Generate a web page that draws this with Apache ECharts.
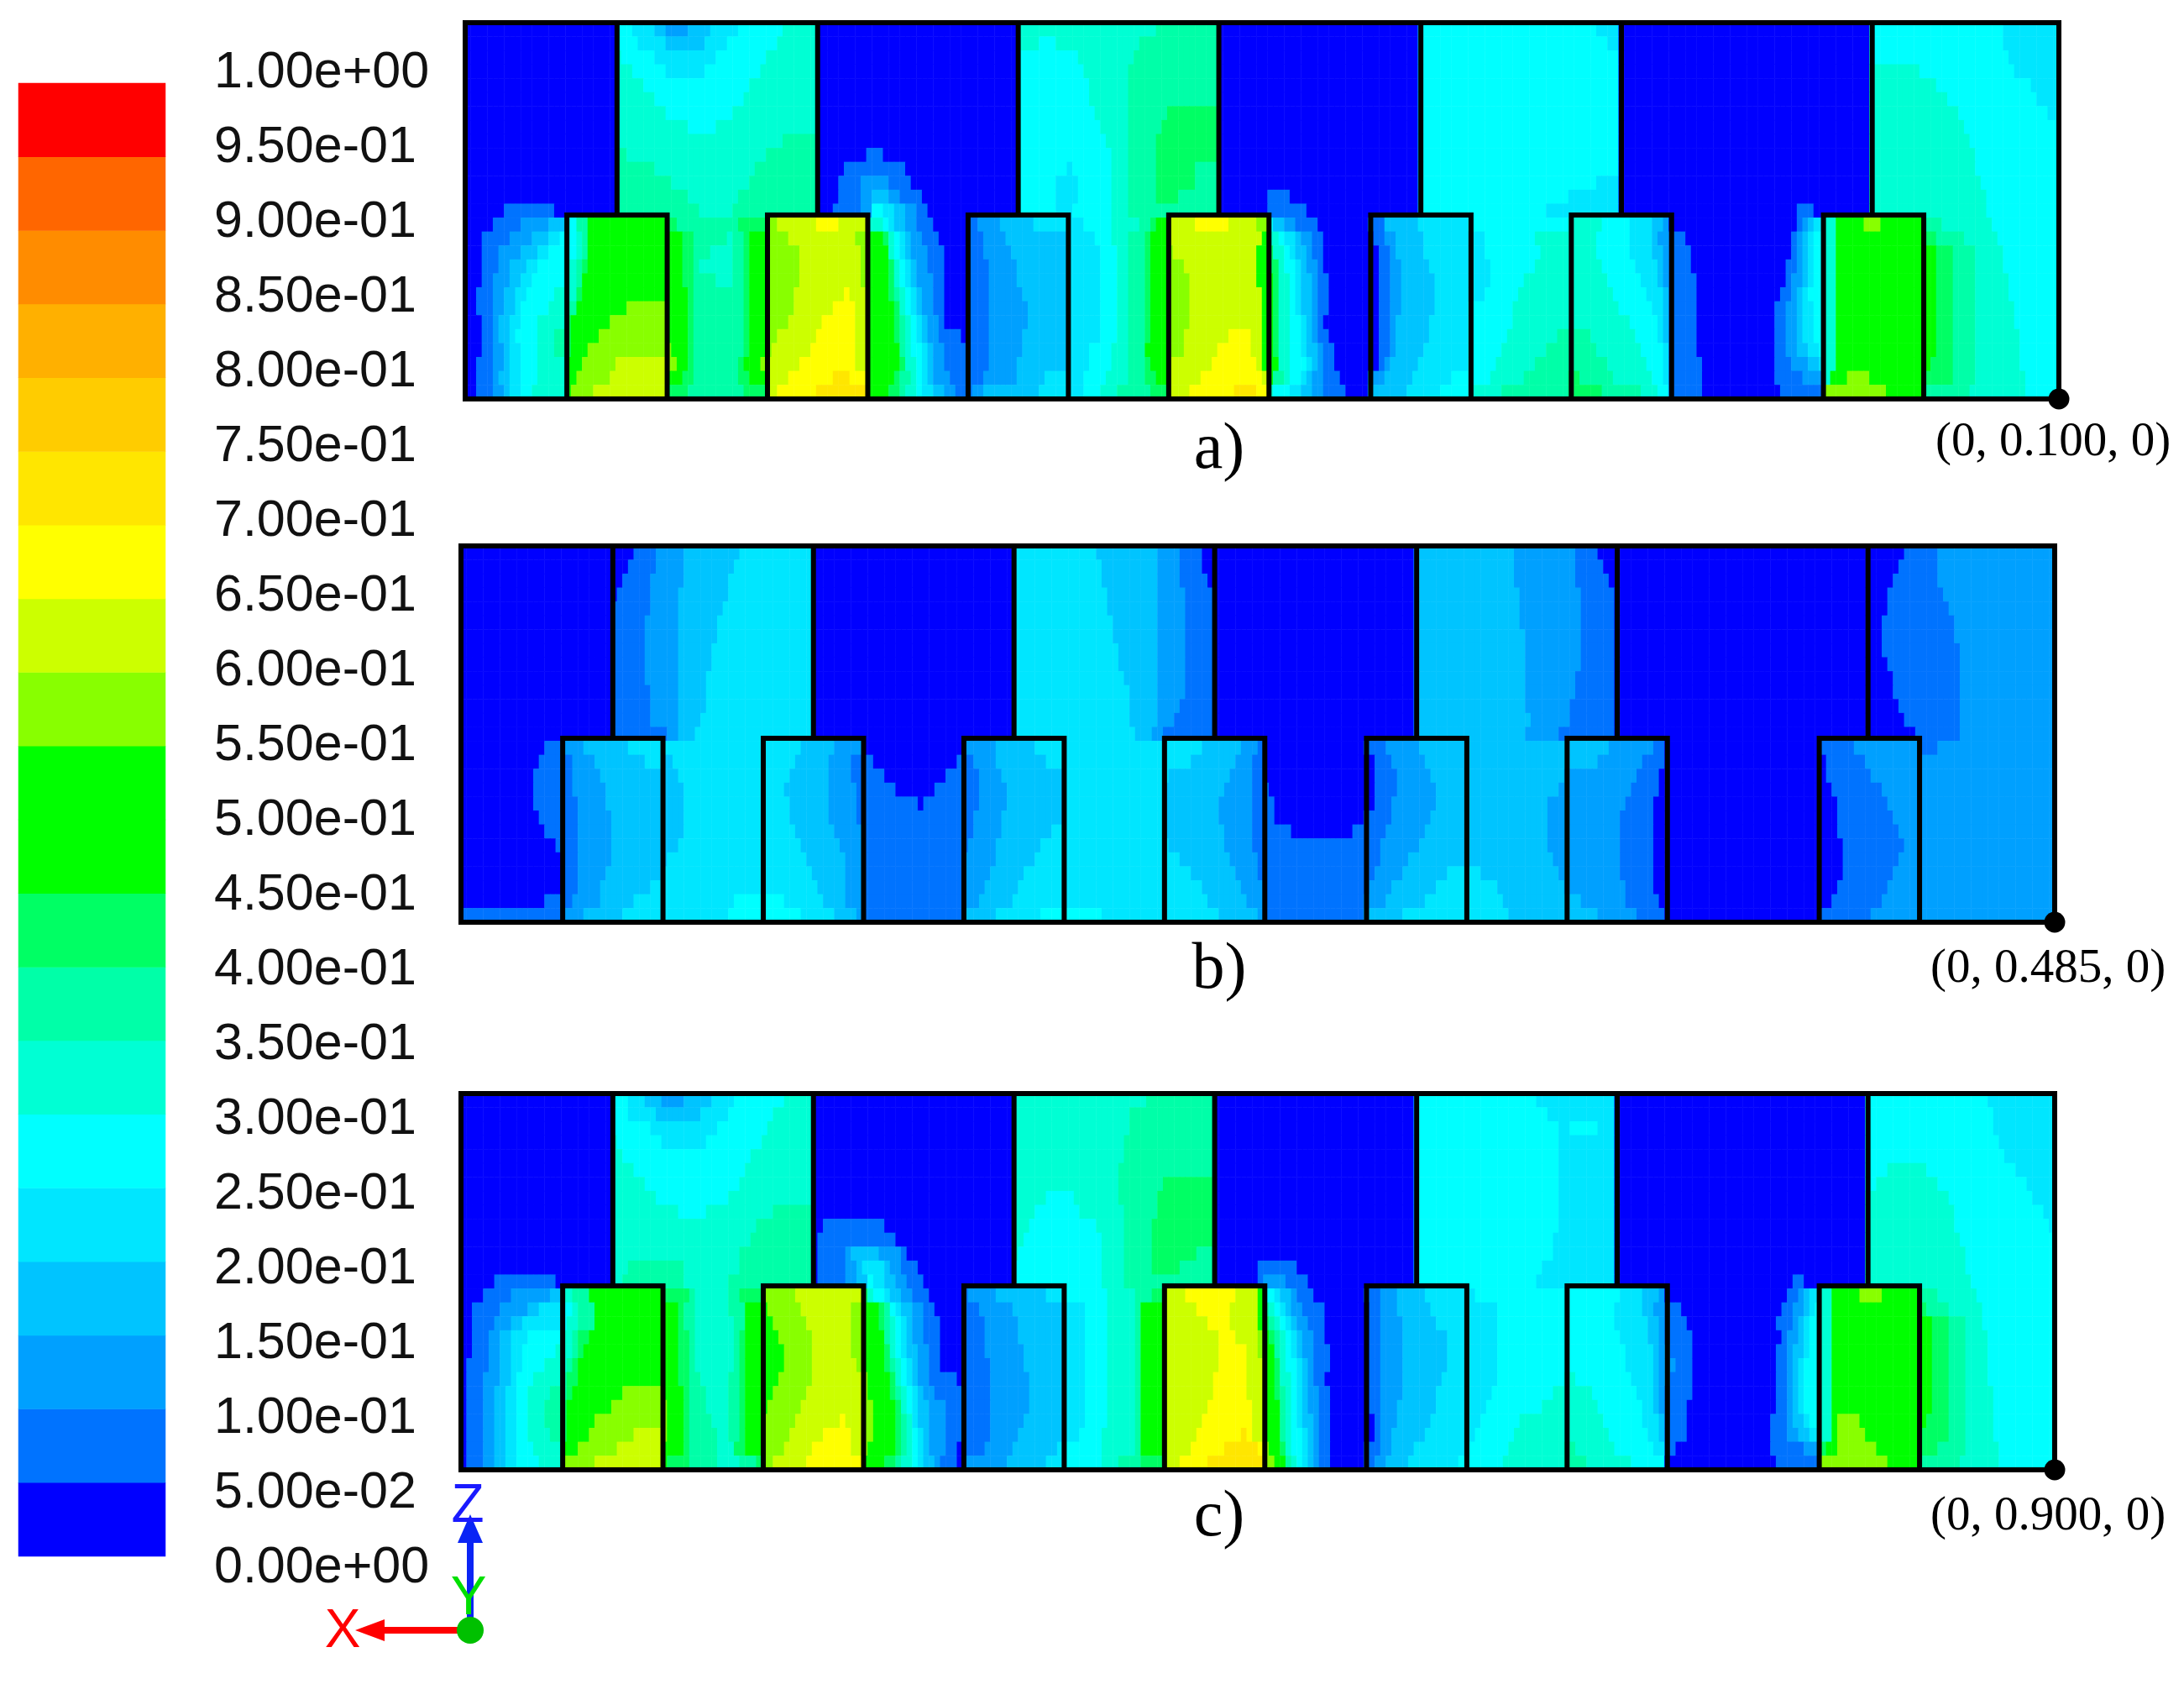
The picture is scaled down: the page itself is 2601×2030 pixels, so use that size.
<!DOCTYPE html>
<html><head><meta charset="utf-8">
<script src="https://cdn.jsdelivr.net/npm/echarts@6/dist/echarts.min.js"></script>
<style>html,body{margin:0;padding:0;background:#fff}#c{width:2601px;height:2030px}</style>
</head><body><div id="c"></div>
<script>
const levelColors=['#0000ff','#0073ff','#00a0ff','#00c4ff','#00e6ff','#00ffff','#00ffd4','#00ffa8','#00ff64','#00ff00','#00ff00','#88ff00','#ccff00','#ffff00','#ffe600','#ffcc00','#ffb000','#ff8c00','#ff6600','#ff0000'];
const tickLabels=['0.00e+00','5.00e-02','1.00e-01','1.50e-01','2.00e-01','2.50e-01','3.00e-01','3.50e-01','4.00e-01','4.50e-01','5.00e-01','5.50e-01','6.00e-01','6.50e-01','7.00e-01','7.50e-01','8.00e-01','8.50e-01','9.00e-01','9.50e-01','1.00e+00'];
const stemEdges=[109,253,397,541,686,830,1010];
const boxEdges=[[73,145],[217,289],[361,433],[505,577],[650,722],[794,866],[975,1047]];
const boxTop=138, spanX=1144, spanY=270;
const panelCaptions=['a)','b)','c)'];
const pointCaptions=['(0, 0.100, 0)','(0, 0.485, 0)','(0, 0.900, 0)'];
// each row: band level, end of band along the panel, band level, end ...
const rowsA=[
[0,109,5,119,4,136,3,145,2,162,3,178,4,197,5,230,6,253,0,397,6,497,7,541,0,686,5,812,4,830,0,1010,5,1103,4,1144],
[0,109,5,124,4,143,3,173,4,189,5,225,6,253,0,397,6,412,5,425,6,483,7,541,0,686,5,822,4,830,0,1010,5,1104,4,1144],
[0,109,6,112,5,135,4,180,5,218,6,253,0,397,5,439,6,481,7,541,0,686,5,830,0,1010,5,1107,4,1144],
[0,109,6,119,5,146,4,173,5,212,6,253,0,397,5,443,6,478,7,541,0,686,5,830,0,1010,6,1046,5,1112,4,1144],
[0,109,6,128,5,206,6,253,0,397,5,447,6,477,7,541,0,686,5,830,0,1010,6,1055,5,1125,4,1144],
[0,109,6,137,5,200,6,253,0,397,5,450,6,476,7,541,0,686,5,830,0,1010,6,1064,5,1130,4,1144],
[0,109,6,145,5,193,6,253,0,397,5,454,6,476,7,503,8,541,0,686,5,830,0,1010,6,1071,5,1137,4,1144],
[0,109,6,160,5,181,6,253,0,397,5,458,6,476,7,501,8,541,0,686,5,830,0,1010,6,1075,5,1144],
[0,109,6,228,7,253,0,397,5,460,6,476,7,498,8,541,0,686,5,830,0,1010,6,1079,5,1144],
[0,109,7,117,6,217,7,253,0,290,1,302,0,397,5,463,6,476,7,496,8,541,0,686,5,830,0,1010,6,1083,5,1144],
[0,109,7,137,6,209,7,253,0,273,1,315,0,397,5,431,4,438,5,465,6,476,7,495,8,524,7,541,0,686,5,830,0,1010,6,1085,5,1144],
[0,109,7,150,6,203,7,253,0,270,1,286,2,304,1,320,0,397,5,425,4,440,5,466,6,476,7,495,8,523,7,541,0,686,5,812,4,830,0,1010,6,1088,5,1144],
[0,109,7,160,6,197,7,253,0,267,1,283,2,293,3,305,2,313,1,329,0,397,5,424,4,440,5,466,6,476,7,497,8,511,7,541,0,577,1,594,0,686,5,793,4,830,0,1010,6,1091,5,1144],
[0,28,1,66,0,109,7,168,6,194,7,253,0,266,1,283,2,292,5,300,4,308,3,318,2,324,1,333,0,397,5,424,4,438,5,466,6,476,7,541,0,577,1,605,0,686,5,778,4,830,0,958,1,970,0,1010,6,1094,5,1144],
[0,22,1,39,2,61,3,73,5,80,7,90,9,145,8,152,7,197,8,217,11,226,12,254,13,268,12,289,6,300,5,304,4,310,3,316,2,325,1,335,0,362,1,368,2,383,3,410,4,433,4,443,5,465,6,485,7,492,8,497,9,505,12,525,13,550,12,570,11,577,5,582,3,588,2,598,1,612,0,650,1,662,3,686,4,722,5,794,6,815,5,838,4,853,3,860,2,866,0,955,1,960,2,965,3,970,4,975,6,984,9,1005,11,1016,9,1047,7,1060,6,1097,5,1144],
[0,12,1,32,2,47,3,61,4,68,5,73,5,79,6,86,7,90,9,145,9,155,8,163,7,188,6,194,7,200,8,204,9,217,11,232,12,281,11,289,9,301,8,303,7,305,6,308,5,312,4,315,3,320,2,327,1,342,0,362,1,371,2,388,3,433,4,453,5,466,6,477,7,487,8,491,9,505,12,572,9,577,6,584,5,590,4,595,3,600,2,607,1,615,0,653,1,662,2,668,3,688,4,722,4,733,5,770,6,794,6,812,5,836,4,852,3,858,2,866,1,875,0,953,1,958,2,962,3,966,4,970,5,975,6,983,9,1047,8,1057,7,1078,6,1100,5,1144],
[0,13,1,25,2,39,3,52,4,61,5,73,5,79,6,84,7,90,9,145,9,156,8,163,7,175,6,194,7,200,8,204,9,217,11,239,12,284,11,289,9,303,8,306,6,310,5,313,4,318,3,322,2,331,1,344,0,362,1,373,2,392,3,433,4,455,5,468,6,477,7,487,8,491,9,505,11,510,12,570,9,577,8,582,6,587,5,594,4,598,3,603,2,609,1,617,0,655,1,663,2,670,3,690,4,722,4,734,5,771,6,794,6,812,5,838,4,854,3,859,2,866,1,880,0,951,1,957,2,961,3,965,4,969,5,975,6,983,9,1047,9,1055,8,1070,7,1083,6,1103,5,1144],
[0,13,1,23,2,33,3,44,4,52,5,73,6,81,7,84,8,88,9,145,9,157,8,163,7,170,6,194,7,200,8,204,9,217,11,239,12,284,11,289,9,303,8,307,7,309,6,313,5,316,4,320,3,324,2,333,1,344,0,362,1,375,2,395,3,433,4,455,5,468,6,477,7,487,8,491,9,505,11,518,12,570,9,577,8,583,6,590,5,597,4,600,3,605,2,611,1,618,0,655,1,664,2,671,3,693,4,722,4,735,5,767,6,794,6,815,5,842,4,856,3,861,2,866,1,882,0,949,1,955,2,960,3,964,4,968,5,975,6,983,9,1047,9,1055,8,1070,7,1083,6,1106,5,1144],
[0,11,1,22,2,31,3,39,4,47,5,73,6,80,7,83,8,86,9,145,9,158,8,163,7,182,6,194,7,200,8,204,9,217,11,239,12,284,11,289,9,304,8,308,7,310,6,314,5,318,4,322,3,326,2,335,1,344,0,362,1,376,2,398,3,433,4,455,5,468,6,477,7,487,8,491,9,505,11,521,12,570,9,577,9,581,8,584,6,591,5,598,4,602,3,607,2,613,1,622,0,655,1,665,2,671,3,696,4,722,4,735,5,761,6,794,6,820,5,845,4,857,3,862,2,866,1,884,0,947,1,954,2,959,3,963,4,967,5,975,6,983,9,1047,9,1056,8,1069,7,1083,6,1108,5,1144],
[0,9,1,21,2,29,3,36,4,44,5,66,6,73,6,79,7,82,8,84,9,145,9,159,8,164,7,201,8,205,9,217,11,238,12,272,13,278,12,289,9,305,8,309,7,312,6,316,5,319,4,324,3,328,2,336,1,344,0,362,1,377,2,400,3,433,4,455,5,468,6,477,7,487,8,491,9,505,11,522,12,571,9,577,9,581,8,585,6,591,5,598,4,602,3,607,2,613,1,619,0,655,1,665,2,671,3,696,4,722,4,734,5,758,6,794,6,824,5,850,4,859,3,863,2,866,1,885,0,944,1,952,2,957,3,962,4,966,5,975,6,983,9,1047,9,1055,8,1070,7,1083,6,1110,5,1144],
[0,8,1,20,2,28,3,35,4,42,5,59,6,73,7,79,8,80,9,115,11,145,9,160,8,165,7,200,8,203,9,217,11,236,12,266,13,279,12,289,9,307,8,311,7,314,6,318,5,322,4,326,3,330,2,337,1,344,0,362,1,378,2,403,3,433,4,455,5,468,6,477,7,487,8,491,9,505,11,522,12,571,9,577,9,581,8,585,6,591,5,598,4,602,3,607,2,613,1,619,0,655,1,665,2,671,3,696,4,722,5,754,6,794,6,829,5,853,4,860,3,863,2,866,1,885,0,941,1,949,2,956,3,962,4,967,5,975,6,983,9,1047,9,1055,8,1070,7,1083,6,1112,5,1144],
[0,12,1,21,2,26,3,33,4,39,5,52,6,73,8,78,9,106,11,145,9,160,8,165,7,200,8,203,9,217,11,233,12,258,13,280,12,289,9,309,8,312,7,315,6,320,5,324,4,328,3,332,2,339,1,346,0,362,1,378,2,403,3,433,4,455,5,468,6,477,7,487,8,491,9,505,11,521,12,572,9,577,9,582,8,585,6,592,5,600,4,604,3,608,2,613,1,618,0,655,1,665,2,670,3,694,4,722,5,752,6,794,6,835,5,856,4,862,3,864,2,866,1,884,0,940,1,949,2,956,3,962,4,967,5,975,6,983,9,1047,9,1055,8,1070,7,1083,6,1114,5,1144],
[0,14,1,20,2,26,3,32,4,38,5,52,6,65,7,73,8,77,9,98,11,145,9,160,8,165,7,200,8,203,9,217,11,226,12,253,13,281,12,289,9,310,8,313,7,317,6,321,5,326,4,330,3,334,2,341,1,358,0,362,1,378,2,402,3,433,4,455,5,468,6,477,7,487,8,491,9,505,11,518,12,548,13,563,12,573,9,577,9,582,8,586,6,593,5,601,4,605,3,609,2,614,1,622,0,655,1,664,2,668,3,692,4,722,5,750,6,785,7,794,7,808,6,841,5,857,4,862,3,866,1,884,0,940,1,949,2,957,3,962,4,968,5,975,6,983,9,1047,9,1055,8,1070,7,1083,6,1116,5,1144],
[0,11,1,20,2,28,3,33,4,40,5,53,6,66,7,73,8,76,9,88,11,145,11,150,9,161,8,166,7,199,8,203,9,217,11,221,12,247,13,281,12,289,9,311,8,314,7,318,6,322,5,327,4,331,3,335,2,343,1,362,1,378,2,400,3,433,4,449,5,466,6,477,7,487,8,490,9,505,11,515,12,541,13,565,12,572,9,577,9,582,8,586,6,594,5,602,4,606,3,611,2,615,1,623,0,655,1,663,2,667,3,689,4,722,5,746,6,778,7,794,7,814,6,846,5,859,4,864,3,866,1,886,0,940,1,950,2,958,3,963,4,972,5,975,6,983,9,1047,9,1055,8,1070,7,1083,6,1117,5,1144],
[0,9,1,19,2,27,3,33,4,41,5,54,6,73,9,86,11,110,12,145,11,151,9,162,8,164,7,198,8,202,9,212,11,217,12,241,13,282,12,289,9,311,8,315,7,318,6,323,5,328,4,332,3,337,2,346,1,362,1,376,2,398,3,433,4,448,5,463,6,477,7,487,8,491,9,505,12,535,13,568,12,573,9,577,9,583,8,586,6,594,5,603,4,607,3,611,2,616,1,626,0,655,1,661,2,665,3,683,4,722,5,742,6,770,7,794,7,820,6,850,5,860,4,866,1,887,0,939,1,953,2,964,3,973,4,975,6,983,9,1047,9,1052,8,1070,7,1083,6,1118,5,1144],
[0,9,1,19,2,26,3,33,4,41,5,54,6,73,9,82,11,103,12,145,9,158,8,164,7,197,8,204,9,217,12,233,13,265,14,275,13,289,9,310,8,314,7,319,6,324,5,329,4,333,3,338,2,349,1,362,1,372,2,395,3,415,4,433,4,446,5,460,6,476,7,487,8,496,9,505,12,530,13,572,12,577,9,580,7,587,6,592,5,602,4,606,3,610,2,617,1,628,0,650,2,660,3,680,4,710,5,722,5,735,6,760,7,794,8,801,7,826,6,852,5,861,4,866,1,888,0,940,1,960,2,975,6,981,9,991,11,1010,9,1047,8,1068,7,1083,6,1119,5,1144],
[0,10,1,20,2,27,3,34,4,42,5,49,6,73,9,75,11,92,12,145,8,162,7,199,8,217,12,224,13,253,14,289,9,306,8,312,7,318,6,323,5,329,4,336,3,343,2,351,1,362,1,364,2,372,3,413,4,433,4,446,5,455,6,468,7,491,8,505,12,522,13,552,14,568,13,577,6,580,5,593,4,600,3,609,2,618,1,632,0,650,3,676,4,700,5,722,5,726,6,745,7,794,8,818,7,845,6,856,5,863,4,866,1,890,0,944,1,975,11,1022,9,1047,7,1080,6,1120,5,1144]
];
const rowsB=[
[0,124,1,140,2,162,3,200,4,253,0,397,4,457,3,499,2,515,1,531,0,686,3,757,2,799,1,817,0,1035,1,1060,2,1144],
[0,120,1,139,2,161,3,197,4,253,0,397,4,459,3,500,2,517,1,534,0,686,3,757,2,800,1,820,0,1031,1,1060,2,1144],
[0,117,1,138,2,160,3,194,4,253,0,397,4,461,3,500,2,518,1,537,0,686,3,758,2,802,1,825,0,1028,1,1062,2,1144],
[0,113,1,137,2,158,3,191,4,253,0,397,4,464,3,501,2,519,1,541,0,686,3,759,2,803,1,830,0,1023,1,1066,2,1144],
[0,110,1,136,2,157,3,188,4,253,0,397,4,466,3,501,2,520,1,541,0,686,3,761,2,804,1,830,0,1023,1,1069,2,1144],
[0,109,1,134,2,156,3,185,4,253,0,397,4,468,3,502,2,521,1,541,0,686,3,762,2,805,1,830,0,1022,1,1071,2,1144],
[0,109,1,133,2,155,3,183,4,253,0,397,4,470,3,502,2,521,1,541,0,686,3,763,2,805,1,830,0,1022,1,1073,2,1144],
[0,109,1,133,2,155,3,181,4,253,0,397,4,471,3,502,2,521,1,541,0,686,3,763,2,805,1,830,0,1022,1,1075,2,1144],
[0,109,1,133,2,155,3,180,4,253,0,397,4,473,3,502,2,521,1,541,0,686,3,764,2,804,1,830,0,1024,1,1077,2,1144],
[0,109,1,134,2,155,3,178,4,253,0,397,4,476,3,502,2,520,1,541,0,686,3,764,2,802,1,830,0,1027,1,1078,2,1144],
[0,109,1,135,2,155,3,177,4,253,0,397,4,479,3,501,2,519,1,541,0,686,3,765,2,800,1,830,0,1029,1,1078,2,1144],
[0,109,1,136,2,155,3,175,4,253,0,397,4,481,3,500,2,518,1,541,0,686,3,766,2,798,1,830,0,1032,1,1078,2,1144],
[0,109,1,138,2,155,3,171,4,253,0,397,4,482,3,499,2,512,1,541,0,686,3,767,2,795,1,830,0,1036,1,1078,2,1144],
[0,109,1,150,2,158,3,168,4,253,0,397,4,485,3,495,2,505,1,541,0,686,3,765,2,787,1,830,0,1046,1,1078,2,1144],
[0,59,1,73,2,90,3,120,4,145,4,217,4,245,3,270,2,288,1,289,0,362,2,383,3,412,4,433,4,505,4,532,3,562,2,572,1,577,0,650,1,664,2,687,3,722,3,794,3,826,2,858,1,866,0,975,1,1000,2,1047,1,1060,2,1144],
[0,56,1,73,1,80,2,97,3,133,4,145,3,152,4,217,4,239,3,265,2,281,1,289,1,296,0,356,1,362,1,370,2,386,3,420,4,433,4,505,4,523,3,556,2,570,1,577,0,650,0,655,1,669,2,693,3,722,3,794,3,815,2,849,1,866,0,981,1,1010,2,1144],
[0,54,1,73,1,81,2,101,3,145,3,157,4,217,4,235,3,264,2,282,1,289,1,303,0,350,1,362,1,371,2,390,3,431,4,433,4,505,4,510,3,552,2,569,1,577,0,650,0,656,1,671,2,697,3,722,3,794,2,844,1,862,0,982,1,1014,2,1144],
[0,53,1,73,1,82,2,103,3,145,3,159,4,217,4,234,3,264,2,283,1,289,1,312,0,340,1,362,1,371,2,391,3,433,4,505,3,547,2,568,1,577,1,581,0,650,0,656,1,671,2,699,3,722,3,790,2,840,1,860,0,985,1,1020,2,1144],
[0,54,1,73,1,83,2,105,3,145,3,162,4,217,4,235,3,265,2,283,1,289,1,327,0,332,1,362,1,371,2,391,3,433,4,505,3,545,2,567,1,577,1,585,0,650,0,655,1,669,2,699,3,722,3,781,2,837,1,858,0,987,1,1025,2,1144],
[0,57,1,73,1,84,2,107,3,145,3,161,4,217,4,237,3,266,2,285,1,289,1,362,1,369,2,390,3,433,4,505,3,546,2,567,1,577,1,586,0,650,1,667,2,696,3,722,3,780,2,834,1,858,0,989,1,1029,2,1144],
[0,62,1,73,1,85,2,109,3,145,3,160,4,217,4,241,3,269,2,287,1,289,1,362,1,367,2,387,3,425,4,433,4,505,3,548,2,568,1,577,1,597,0,639,1,650,1,665,2,692,3,722,3,780,2,832,1,858,0,990,1,1033,2,1144],
[0,68,1,73,1,85,2,109,3,145,3,157,4,217,4,245,3,272,2,289,1,362,1,364,2,385,3,415,4,433,4,505,4,507,3,550,2,570,1,650,1,661,2,687,3,722,3,781,2,831,1,857,0,991,1,1035,2,1144],
[0,73,1,84,2,107,3,145,3,150,4,217,4,249,3,275,2,289,1,362,2,383,3,411,4,433,4,505,4,518,3,553,2,571,1,650,1,659,2,681,3,722,3,783,2,832,1,857,0,991,1,1033,2,1144],
[0,73,1,83,2,104,3,145,4,217,4,253,3,276,2,289,1,362,2,381,3,406,4,433,4,505,4,526,3,556,2,573,1,650,1,656,2,675,3,710,4,722,4,733,3,788,2,833,1,857,0,991,1,1030,2,1144],
[0,73,1,83,2,101,3,137,4,145,4,217,4,257,3,277,2,289,1,362,2,378,3,401,4,433,4,505,4,531,3,559,2,575,1,650,1,654,2,669,3,700,4,722,4,745,3,794,2,836,1,857,0,990,1,1025,2,1144],
[0,62,1,73,1,82,2,99,3,126,4,145,4,195,5,217,5,232,4,261,3,278,2,289,1,362,2,373,3,396,4,433,4,505,4,537,3,564,2,577,1,650,2,664,3,691,4,722,4,749,3,794,3,805,2,838,1,860,0,986,1,1019,2,1144],
[1,73,2,90,3,115,4,145,4,191,5,217,5,245,4,269,3,283,2,289,1,362,3,386,4,418,5,433,5,461,4,505,4,546,3,572,2,577,1,650,3,678,4,722,4,754,3,794,3,817,2,845,1,866,0,975,0,978,1,1011,2,1144]
];
const rowsC=[
[0,109,5,119,4,132,3,143,2,161,3,180,4,198,5,231,6,253,0,397,6,493,7,541,0,686,5,774,4,830,0,1010,5,1097,4,1144],
[0,109,5,120,4,141,3,172,4,191,5,226,6,253,0,397,6,481,7,541,0,686,5,780,4,830,0,1010,5,1099,4,1144],
[0,109,5,135,4,185,5,221,6,253,0,397,6,479,7,541,0,686,5,790,4,796,5,815,4,830,0,1010,5,1100,4,1144],
[0,109,6,111,5,144,4,177,5,217,6,253,0,397,6,477,7,541,0,686,5,789,4,830,0,1010,5,1103,4,1144],
[0,109,6,118,5,209,6,253,0,397,6,475,7,541,0,686,5,788,4,830,0,1010,5,1110,4,1144],
[0,109,6,125,5,205,6,253,0,397,6,474,7,541,0,686,5,787,4,830,0,1010,5,1026,6,1054,5,1117,4,1144],
[0,109,6,132,5,200,6,253,0,397,6,474,7,503,8,541,0,686,5,788,4,830,0,1010,5,1015,6,1062,5,1125,4,1144],
[0,109,6,142,5,194,6,253,0,397,6,420,5,441,6,474,7,502,8,541,0,686,5,790,4,830,0,1010,6,1068,5,1130,4,1144],
[0,109,6,157,5,176,6,226,7,253,0,397,6,412,5,446,6,475,7,500,8,541,0,686,5,789,4,830,0,1010,6,1071,5,1136,4,1144],
[0,109,6,213,7,253,0,260,1,306,0,397,6,407,5,455,6,475,7,498,8,541,0,686,5,787,4,830,0,1010,6,1074,5,1141,4,1144],
[0,109,6,207,7,253,0,257,1,314,0,397,6,403,5,459,6,475,7,496,8,541,0,686,5,785,4,830,0,1010,6,1077,5,1144],
[0,109,6,202,7,253,0,255,1,275,2,280,3,302,2,315,1,322,0,397,6,400,5,460,6,475,7,495,8,530,7,541,0,686,5,783,4,830,0,1010,6,1080,5,1144],
[0,109,6,119,7,159,6,199,7,253,0,255,1,275,2,283,3,290,4,303,3,308,2,318,1,328,0,397,5,461,6,475,7,497,8,515,7,541,0,573,1,600,0,686,5,778,4,830,0,1010,6,1082,5,1144],
[0,24,1,68,0,109,6,117,7,162,6,194,7,253,0,255,1,278,2,286,3,291,5,298,4,304,3,312,2,322,1,332,0,397,5,462,6,476,7,541,0,573,1,578,2,594,1,608,0,686,5,772,4,830,0,958,1,965,0,1010,6,1085,5,1144],
[0,17,1,38,2,66,3,73,6,81,7,94,9,145,8,163,7,170,6,192,7,200,8,217,11,240,12,289,8,293,6,298,5,303,4,309,3,315,2,326,1,335,0,362,1,366,2,386,3,422,4,433,5,465,6,486,7,495,8,505,12,519,13,556,12,572,9,577,5,585,4,590,3,595,2,602,1,614,0,650,1,660,2,671,3,691,4,722,4,730,5,794,5,831,4,850,3,860,2,866,0,952,1,960,2,966,3,970,4,975,6,984,9,1003,11,1020,9,1047,7,1060,6,1090,5,1144],
[0,9,1,30,2,48,3,58,4,73,5,81,6,86,7,95,9,145,9,157,8,162,7,170,6,194,7,203,8,205,9,217,9,222,11,245,12,281,11,289,9,301,8,304,7,307,6,310,5,314,4,318,3,323,2,332,1,341,0,362,1,373,2,396,3,433,4,449,5,465,6,484,7,488,9,505,12,530,13,553,12,571,9,577,7,582,6,586,5,590,4,594,3,598,2,604,1,619,0,654,1,661,2,673,3,698,4,722,4,743,5,794,5,830,4,850,3,858,2,866,1,876,0,948,1,956,2,963,3,967,4,971,5,975,6,984,9,1047,8,1054,7,1070,6,1092,5,1144],
[0,8,1,24,2,35,3,45,4,73,5,78,6,83,7,95,9,145,9,157,8,162,7,170,6,197,7,203,8,206,9,217,9,226,11,249,12,281,11,289,9,302,8,305,7,308,6,312,5,316,4,320,3,325,2,334,1,343,0,362,1,375,2,400,3,433,4,450,5,464,6,484,7,488,9,505,12,537,13,551,12,571,9,577,8,581,7,585,6,588,5,592,4,597,3,601,2,609,1,619,0,654,1,661,2,675,3,702,4,722,4,744,5,794,5,829,4,852,3,860,2,866,1,881,0,946,1,955,2,961,3,966,4,970,5,975,6,984,9,1047,9,1057,8,1069,7,1081,6,1094,5,1144],
[0,8,1,20,2,29,3,38,4,50,5,73,6,80,7,85,8,92,9,145,9,157,8,163,7,170,6,197,7,201,8,206,9,217,9,229,11,251,12,281,11,289,9,303,8,306,7,309,6,313,5,317,4,321,3,326,2,334,1,343,0,362,1,376,2,402,3,433,4,450,5,464,6,484,7,488,9,505,12,545,13,556,12,572,11,577,9,579,8,584,7,587,6,591,5,595,4,600,3,604,2,612,1,619,0,654,1,661,2,677,3,707,4,722,4,744,5,794,5,833,4,854,3,861,2,866,1,885,0,947,1,953,2,959,3,964,4,969,5,975,6,984,9,1047,9,1056,8,1068,7,1081,6,1095,5,1144],
[0,7,1,20,2,28,3,37,4,46,5,70,6,73,6,79,7,83,8,90,9,145,9,157,8,163,7,167,6,196,7,201,8,205,9,217,9,231,11,251,12,281,11,289,9,305,8,308,7,310,6,314,5,318,4,322,3,327,2,335,1,343,0,362,1,378,2,404,3,433,4,450,5,464,6,484,7,488,9,505,12,545,13,564,12,573,11,577,9,583,8,586,7,589,6,593,5,598,4,602,3,606,2,613,1,624,0,654,1,661,2,677,3,710,4,722,4,745,5,794,5,835,4,855,3,861,2,866,2,870,1,886,0,945,1,952,2,958,3,963,4,968,5,975,6,984,9,1047,9,1055,8,1068,7,1081,6,1096,5,1144],
[0,6,1,19,2,27,3,36,4,43,5,60,6,73,6,78,7,81,8,86,9,145,9,158,8,163,7,169,6,195,7,201,8,205,9,217,9,231,11,251,12,283,11,289,9,306,8,309,7,312,6,316,5,319,4,323,3,328,2,336,1,346,0,362,1,379,2,406,3,433,4,450,5,464,6,484,7,488,9,505,12,544,13,565,12,575,11,577,9,584,8,587,7,590,6,594,5,599,4,603,3,607,2,613,1,626,0,654,1,661,2,677,3,707,4,722,4,745,5,794,5,838,4,856,3,861,2,866,2,872,1,886,0,943,1,951,2,956,3,961,4,966,5,975,6,984,9,1047,9,1055,8,1067,7,1081,6,1097,5,1144],
[0,6,1,18,2,27,3,35,4,42,5,51,6,73,7,77,8,83,9,145,9,158,8,164,7,172,6,194,7,200,8,205,9,217,9,229,11,251,12,289,11,292,9,308,8,311,7,314,6,318,5,321,4,325,3,330,2,338,1,357,0,362,1,380,2,408,3,433,4,450,5,464,6,484,7,488,9,505,12,542,13,566,12,577,9,585,8,588,7,590,6,595,5,600,4,604,3,608,2,614,1,622,0,654,1,661,2,677,3,705,4,722,4,744,5,794,6,800,5,841,4,857,3,862,2,866,2,870,1,885,0,944,1,951,2,956,3,961,4,966,5,975,6,984,9,1047,9,1055,8,1067,7,1081,6,1098,5,1144],
[0,5,1,17,2,26,3,34,4,41,5,49,6,65,7,73,7,77,8,81,9,116,11,145,9,159,8,164,7,175,6,194,7,200,8,204,9,217,9,226,11,248,12,289,11,294,9,310,8,313,7,316,6,320,5,323,4,327,3,333,2,341,1,360,0,362,1,382,2,408,3,433,4,450,5,464,6,484,7,488,9,505,12,539,13,566,12,577,9,586,8,589,7,591,6,595,5,601,4,605,3,609,2,615,1,623,0,654,1,661,2,676,3,702,4,722,4,742,5,786,6,794,6,811,5,844,4,857,3,862,2,866,1,883,0,945,1,952,2,957,3,962,4,966,5,975,6,984,9,1047,9,1055,8,1067,7,1081,6,1099,5,1144],
[0,5,1,16,2,25,3,32,4,39,5,48,6,62,7,73,8,76,9,107,11,145,11,149,9,159,8,165,7,178,6,193,7,199,8,204,9,217,9,220,11,245,12,289,11,296,9,312,8,315,7,318,6,322,5,325,4,329,3,337,2,349,1,362,1,382,2,408,3,433,4,449,5,463,6,484,7,488,9,505,12,535,13,567,12,577,9,587,8,589,7,592,6,596,5,602,4,606,3,610,2,616,1,623,0,654,1,661,2,674,3,699,4,722,4,737,5,777,6,794,6,815,5,847,4,858,3,862,2,866,1,882,0,944,1,952,2,957,3,962,4,966,5,975,6,984,9,1047,9,1055,8,1067,7,1081,6,1100,5,1144],
[0,5,1,15,2,25,3,32,4,40,5,48,6,62,7,73,8,76,9,97,11,145,11,150,9,160,8,164,7,181,6,193,7,199,8,204,9,217,11,241,12,273,13,277,12,289,11,298,9,313,8,316,7,319,6,323,5,326,4,330,3,338,2,350,1,362,1,381,2,406,3,433,4,449,5,463,6,484,7,488,9,505,12,531,13,567,12,577,9,587,8,590,7,592,6,597,5,602,4,606,3,611,2,617,1,624,0,655,1,661,2,672,3,696,4,722,4,734,5,762,6,794,6,820,5,850,4,859,3,863,2,866,1,881,0,942,1,951,2,958,3,963,4,969,5,975,6,984,9,990,11,1005,9,1047,9,1054,8,1067,7,1081,6,1101,5,1144],
[0,5,1,16,2,25,3,32,4,41,5,50,6,66,7,73,8,76,9,92,11,125,12,145,11,150,9,161,8,165,7,183,6,193,7,199,8,204,9,217,11,236,12,262,13,279,12,289,11,298,9,313,8,316,7,319,6,324,5,327,4,331,3,338,2,349,1,362,1,380,2,402,3,433,4,445,5,462,6,484,7,487,9,505,12,527,13,562,14,566,13,570,12,577,9,587,8,590,7,593,6,597,5,603,4,607,3,612,2,618,1,624,0,655,1,661,2,669,3,691,4,722,4,730,5,755,6,794,6,825,5,852,4,860,3,864,2,866,1,880,0,940,1,953,2,961,3,967,4,975,6,984,9,989,11,1009,9,1047,8,1067,7,1081,6,1102,5,1144],
[0,5,1,16,2,25,3,33,4,41,5,52,6,73,9,86,11,112,12,145,9,160,8,164,7,185,6,195,7,197,8,205,9,217,11,232,12,252,13,282,12,289,11,292,9,312,8,316,7,319,6,324,5,327,4,331,3,338,2,348,1,358,0,362,1,376,2,398,3,430,4,433,5,460,6,484,7,488,9,505,12,523,13,548,14,572,13,577,11,582,9,588,8,591,7,594,6,598,5,604,4,608,3,612,2,617,1,625,0,650,1,661,2,667,3,686,4,722,4,726,5,752,6,794,7,800,6,830,5,856,4,864,3,866,1,874,0,940,1,965,2,975,8,982,9,989,11,1015,9,1047,8,1062,7,1081,6,1103,5,1144],
[0,5,1,17,2,24,3,33,4,42,5,55,6,73,11,98,12,145,9,148,8,163,7,186,6,202,7,213,8,217,11,226,12,247,13,289,9,304,8,312,7,318,6,324,5,328,4,333,3,340,2,346,1,358,0,362,2,393,3,419,4,433,5,459,6,472,7,487,8,503,9,505,12,517,13,536,14,577,11,583,9,591,7,596,6,602,5,606,4,610,3,613,2,615,1,624,0,650,1,655,2,665,3,682,4,715,5,722,5,750,6,794,7,808,6,841,5,866,0,945,1,975,11,1025,9,1047,7,1075,6,1104,5,1144]
];
const columnStep=4;
function expandRow(row,r,out){
  let k=0;
  for(let c=0;c*columnStep<spanX;c++){
    const pos=c*columnStep+columnStep/2;
    while(k+3<row.length&&row[k+1]<=pos)k+=2;
    out.push([c,r,row[k]*0.05+0.025]);
  }
}
function panelCells(rows){const out=[];rows.forEach((row,r)=>expandRow(row,r,out));return out;}
function outlinePaths(){
  const paths=[[[0,0],[spanX,0],[spanX,spanY],[0,spanY],[0,0],[spanX,0]]];
  stemEdges.forEach(x=>paths.push([[x,0],[x,boxTop]]));
  boxEdges.forEach(b=>paths.push([[b[0],spanY],[b[0],boxTop],[b[1],boxTop],[b[1],spanY]]));
  return paths.map(p=>({coords:p}));
}
const panelBoxes=[{left:554,top:27,width:1898,height:448},{left:549,top:650,width:1898,height:448},{left:549,top:1302,width:1898,height:448}];
const colCats=Array.from({length:Math.ceil(spanX/columnStep)},(_,i)=>i);
const rowCats=rowsA.map((_,i)=>i);
const grid=[],xAxis=[],yAxis=[],series=[],heatIdx=[];
[rowsA,rowsB,rowsC].forEach((rows,i)=>{
  grid.push(Object.assign({containLabel:false},panelBoxes[i]));
  const xc=xAxis.length;
  xAxis.push({type:'category',gridIndex:i,data:colCats,show:false});
  xAxis.push({type:'value',gridIndex:i,min:0,max:spanX,show:false});
  yAxis.push({type:'category',gridIndex:i,data:rowCats,inverse:true,show:false});
  yAxis.push({type:'value',gridIndex:i,min:0,max:spanY,inverse:true,show:false});
  heatIdx.push(series.length);
  series.push({type:'heatmap',xAxisIndex:xc,yAxisIndex:xc,data:panelCells(rows),progressive:0,silent:true,z:1});
  series.push({type:'lines',coordinateSystem:'cartesian2d',xAxisIndex:xc+1,yAxisIndex:xc+1,polyline:true,clip:false,silent:true,z:5,
    lineStyle:{color:'#000',width:6,opacity:1,cap:'square'},data:outlinePaths()});
  series.push({type:'scatter',xAxisIndex:xc+1,yAxisIndex:xc+1,clip:false,silent:true,z:6,symbolSize:25,itemStyle:{color:'#000',opacity:1},data:[[spanX,spanY]]});
});
// colour bar
const barGrid=grid.length;
grid.push({left:22,top:99,width:175,height:1754});
xAxis.push({type:'category',gridIndex:barGrid,data:['bar'],show:false});
yAxis.push({type:'category',gridIndex:barGrid,data:levelColors.map((_,i)=>i),show:false});
heatIdx.push(series.length);
series.push({type:'heatmap',xAxisIndex:xAxis.length-1,yAxisIndex:yAxis.length-1,silent:true,progressive:0,
  data:levelColors.map((_,i)=>[0,i,i*0.05+0.025])});
// tick labels
const tickGrid=grid.length;
grid.push({left:255,top:87,width:280,height:1780});
xAxis.push({type:'value',gridIndex:tickGrid,show:false,min:0,max:1});
yAxis.push({type:'value',gridIndex:tickGrid,min:0,max:1,interval:0.05,
  axisLine:{show:false},axisTick:{show:false},splitLine:{show:false},
  axisLabel:{show:true,inside:true,margin:0,align:'left',fontSize:61,fontFamily:'Liberation Sans',color:'#111',
    formatter:v=>tickLabels[Math.round(v/0.05)]}});
const captionY=[537,1156,1808],pointX=[2445,2439,2439],pointY=[527,1154,1806];
const graphic=[];
panelCaptions.forEach((t,i)=>graphic.push({type:'text',z:10,style:{text:t,x:1452,y:captionY[i],align:'center',verticalAlign:'middle',font:'78px "Liberation Serif"',fill:'#000'}}));
pointCaptions.forEach((t,i)=>graphic.push({type:'text',z:10,style:{text:t,x:pointX[i],y:pointY[i],align:'center',verticalAlign:'middle',font:'57px "Liberation Serif"',fill:'#000'}}));
graphic.push(
 {type:'rect',z:10,shape:{x:556,y:1837,width:8,height:104},style:{fill:'#0a24f5'}},
 {type:'polygon',z:10,shape:{points:[[560,1803],[545,1837],[575,1837]]},style:{fill:'#0a24f5'}},
 {type:'rect',z:11,shape:{x:458,y:1937,width:102,height:8},style:{fill:'#ff0000'}},
 {type:'polygon',z:11,shape:{points:[[423,1941],[458,1928],[458,1954]]},style:{fill:'#ff0000'}},
 {type:'text',z:11,style:{text:'X',x:408,y:1943,align:'center',verticalAlign:'middle',font:'64px "Liberation Sans"',fill:'#ff0000'}},
 {type:'text',z:11,style:{text:'Z',x:557,y:1794,align:'center',verticalAlign:'middle',font:'64px "Liberation Sans"',fill:'#1a1aff'}},
 {type:'text',z:12,style:{text:'Y',x:558,y:1904,align:'center',verticalAlign:'middle',font:'64px "Liberation Sans"',fill:'#00e000'}},
 {type:'circle',z:13,shape:{cx:560,cy:1941,r:16},style:{fill:'#00c000'}}
);
const chart=echarts.init(document.getElementById('c'),null,{renderer:'canvas'});
chart.setOption({animation:false,backgroundColor:'#ffffff',grid,xAxis,yAxis,series,graphic,
  visualMap:{show:false,type:'piecewise',seriesIndex:heatIdx,dimension:2,
    pieces:levelColors.map((c,i)=>({min:i*0.05,max:(i+1)*0.05,color:c}))}});
</script></body></html>
